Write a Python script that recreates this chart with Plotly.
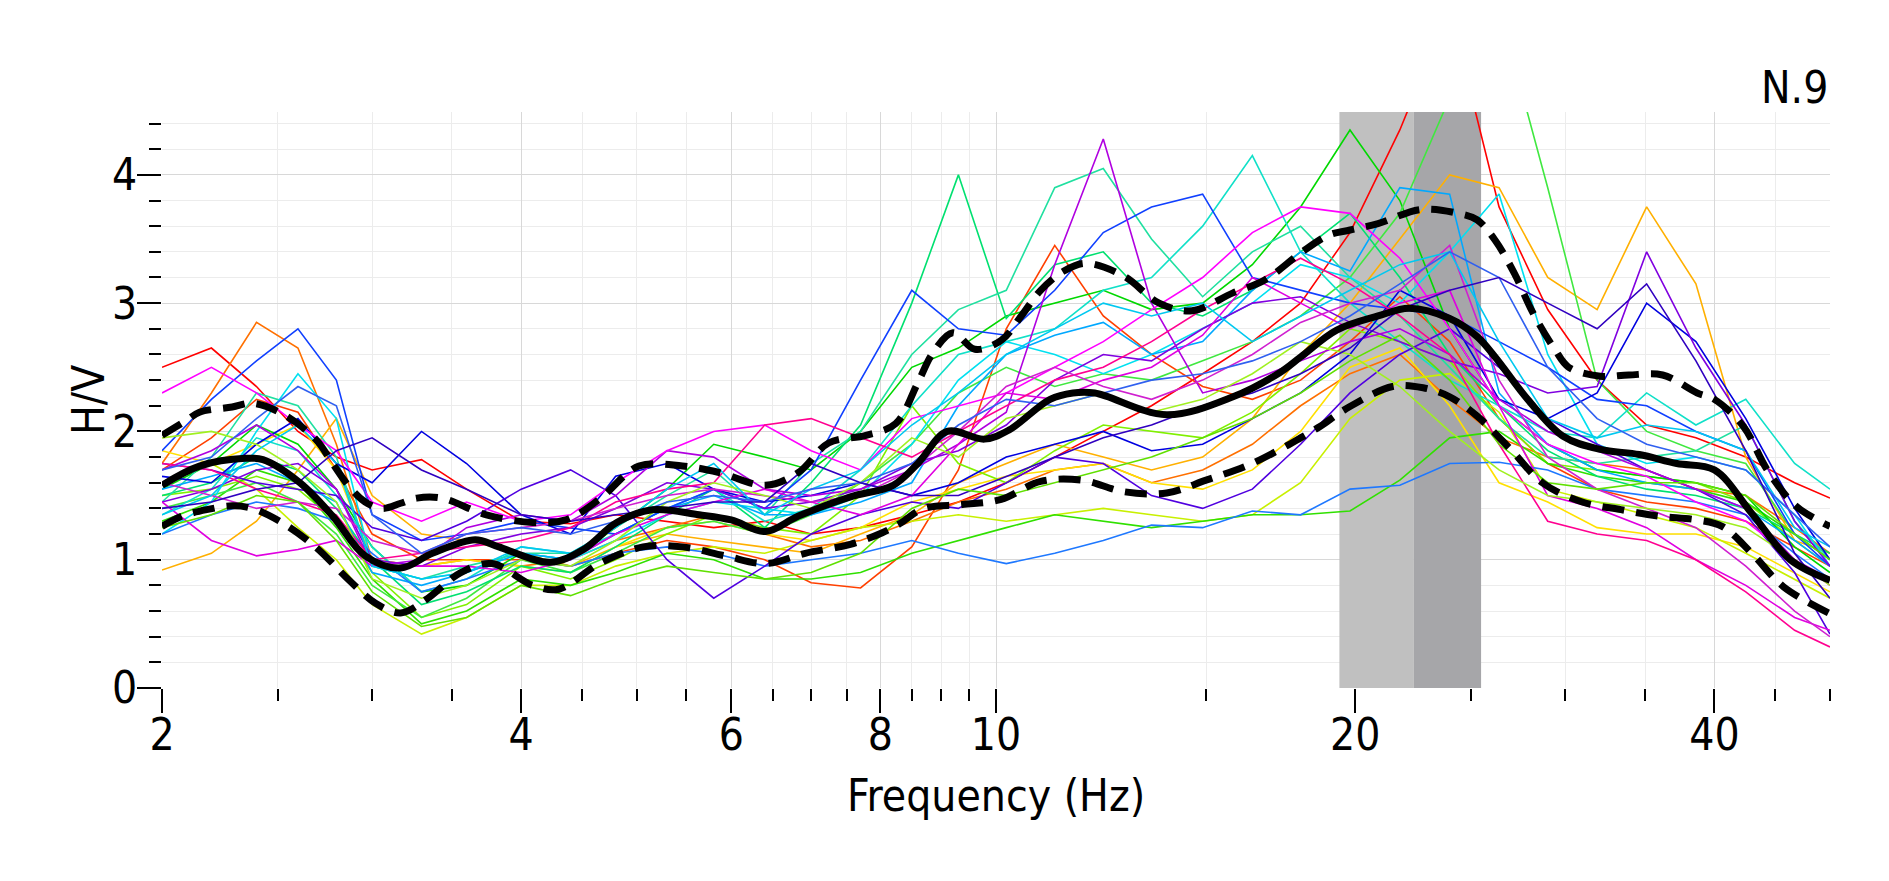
import math
import plotly.graph_objects as go

# ---------------- data ----------------
FREQ = [2.0, 2.2, 2.4, 2.6, 2.8, 3.0, 3.3, 3.6, 4.0, 4.4, 4.8, 5.3, 5.8, 6.4, 7.0, 7.7,
        8.5, 9.3, 10.2, 11.2, 12.3, 13.5, 14.9, 16.4, 18.0, 19.8, 21.8, 24.0, 26.4, 29.0,
        31.9, 35.1, 38.6, 42.5, 46.7, 50.0]

W01 = [2.50, 2.65, 2.35, 2.00, 1.80, 1.70, 1.78, 1.55, 1.30, 1.28, 1.35, 1.30, 1.25, 1.30, 1.20, 1.25, 1.35, 1.45, 1.60, 1.80, 2.00, 2.20, 2.45, 2.70, 3.00, 3.55, 4.35, 5.30, 3.75, 2.95, 2.40, 2.05, 1.95, 1.80, 1.60, 1.48]
W02 = [1.70, 1.95, 2.25, 2.15, 1.70, 1.20, 1.00, 1.00, 1.00, 0.95, 1.05, 1.15, 1.10, 1.00, 0.82, 0.78, 1.10, 1.70, 2.80, 3.45, 2.90, 2.60, 2.35, 2.25, 2.40, 2.70, 3.05, 2.70, 2.10, 1.75, 1.55, 1.45, 1.40, 1.30, 1.10, 0.95]
W03 = [1.75, 2.30, 2.85, 2.65, 1.90, 1.00, 0.95, 1.00, 0.95, 1.00, 1.15, 1.25, 1.35, 1.20, 1.10, 1.15, 1.30, 1.45, 1.55, 1.70, 1.75, 1.60, 1.70, 1.90, 2.20, 2.45, 2.60, 2.25, 1.95, 1.80, 1.75, 1.70, 1.55, 1.50, 1.25, 1.05]
W04 = [0.92, 1.05, 1.30, 1.70, 2.10, 1.50, 1.20, 1.15, 1.05, 0.95, 1.10, 1.20, 1.15, 1.10, 1.05, 1.20, 1.35, 1.60, 1.75, 1.90, 1.80, 1.70, 1.80, 2.10, 2.60, 3.00, 3.50, 4.00, 3.90, 3.20, 2.95, 3.75, 3.15, 1.80, 1.15, 1.05]
W05 = [1.85, 1.75, 1.90, 2.05, 1.70, 1.00, 0.95, 1.00, 0.95, 0.90, 1.10, 1.25, 1.30, 1.20, 1.15, 1.25, 1.45, 1.55, 1.65, 1.70, 1.75, 1.60, 1.55, 1.70, 2.00, 2.50, 2.65, 2.20, 1.60, 1.45, 1.25, 1.20, 1.20, 1.10, 0.90, 0.75]
W06 = [1.60, 1.75, 1.55, 1.25, 1.00, 0.65, 0.42, 0.55, 0.80, 0.80, 0.95, 1.05, 1.10, 1.05, 1.15, 1.25, 1.30, 1.35, 1.30, 1.35, 1.40, 1.35, 1.30, 1.35, 1.60, 2.10, 2.40, 2.45, 2.15, 1.55, 1.45, 1.35, 1.25, 1.05, 0.85, 0.70]
W07 = [1.50, 1.55, 1.65, 1.55, 1.30, 0.90, 0.55, 0.65, 0.95, 0.85, 1.00, 1.20, 1.35, 1.25, 1.20, 1.50, 2.20, 1.75, 1.60, 1.85, 2.05, 2.00, 1.95, 2.15, 2.45, 2.80, 2.70, 2.55, 2.10, 1.75, 1.70, 1.65, 1.60, 1.45, 1.15, 0.95]
W08 = [1.30, 1.45, 1.70, 1.60, 1.25, 0.85, 0.50, 0.60, 0.85, 0.80, 0.90, 1.05, 1.00, 0.85, 0.85, 0.90, 1.05, 1.15, 1.25, 1.35, 1.30, 1.25, 1.30, 1.35, 1.35, 1.38, 1.62, 1.95, 2.00, 1.75, 1.65, 1.60, 1.55, 1.45, 1.20, 1.00]
W09 = [1.55, 1.75, 2.05, 1.90, 1.55, 1.10, 0.75, 0.80, 1.05, 1.00, 1.25, 1.55, 1.90, 1.80, 1.70, 2.00, 2.50, 2.65, 2.90, 3.00, 3.10, 2.95, 3.00, 3.30, 3.75, 4.35, 3.80, 2.80, 2.20, 1.90, 1.70, 1.65, 1.60, 1.50, 1.10, 0.90]
W10 = [1.40, 1.50, 1.60, 1.45, 1.20, 0.80, 0.55, 0.70, 1.00, 0.90, 1.05, 1.25, 1.30, 1.20, 1.35, 1.60, 1.90, 2.30, 2.50, 2.35, 2.45, 2.40, 2.55, 2.70, 2.90, 3.20, 3.70, 4.60, 5.30, 3.90, 2.40, 2.00, 1.85, 1.75, 1.20, 1.00]
W11 = [1.50, 1.60, 1.80, 1.70, 1.40, 1.00, 0.65, 0.75, 0.95, 0.90, 1.10, 1.35, 1.55, 1.25, 1.60, 2.05, 3.00, 4.00, 2.88, 3.30, 3.40, 3.00, 2.90, 3.10, 3.40, 3.70, 3.20, 2.60, 2.20, 1.85, 1.65, 1.55, 1.50, 1.40, 1.20, 1.05]
W12 = [1.45, 1.80, 2.30, 2.20, 1.80, 0.95, 0.85, 0.95, 1.05, 1.05, 1.25, 1.50, 1.70, 1.35, 1.75, 2.00, 2.60, 2.95, 3.10, 3.90, 4.05, 3.50, 3.05, 3.40, 3.60, 3.20, 2.90, 2.50, 2.10, 1.80, 1.75, 1.80, 1.85, 2.05, 1.30, 1.00]
W13 = [1.35, 1.55, 1.95, 1.85, 1.50, 1.10, 0.75, 0.85, 1.10, 1.05, 1.20, 1.40, 1.55, 1.30, 1.40, 1.70, 2.20, 2.60, 2.70, 2.80, 3.10, 3.20, 3.60, 4.15, 3.40, 3.00, 2.70, 2.40, 2.20, 2.00, 1.95, 2.30, 2.05, 2.25, 1.75, 1.55]
W14 = [1.20, 1.45, 2.00, 2.45, 2.10, 0.95, 0.85, 0.90, 1.05, 1.00, 1.15, 1.35, 1.45, 1.40, 1.35, 1.50, 1.90, 2.40, 2.70, 2.60, 2.45, 2.60, 2.80, 3.00, 3.30, 3.20, 3.00, 3.40, 3.85, 2.60, 1.90, 1.75, 1.80, 1.70, 1.35, 0.95]
W15 = [1.55, 1.65, 1.75, 1.60, 1.45, 0.90, 0.80, 0.90, 1.05, 1.00, 1.20, 1.40, 1.50, 1.35, 1.35, 1.45, 1.60, 2.20, 2.60, 2.75, 2.85, 2.60, 2.70, 3.10, 3.40, 3.25, 3.90, 3.85, 2.30, 1.90, 1.70, 1.60, 1.55, 1.40, 1.15, 0.95]
W16 = [1.20, 1.35, 1.45, 1.40, 1.30, 1.05, 0.75, 0.85, 1.00, 0.95, 1.05, 1.10, 1.05, 0.95, 1.00, 1.05, 1.15, 1.05, 0.97, 1.05, 1.15, 1.27, 1.25, 1.38, 1.35, 1.55, 1.58, 1.75, 1.76, 1.70, 1.55, 1.50, 1.45, 1.35, 1.05, 0.85]
W17 = [1.85, 2.25, 2.55, 2.80, 2.40, 1.35, 1.15, 1.20, 1.30, 1.25, 1.20, 1.40, 1.55, 1.40, 1.70, 2.40, 3.10, 2.80, 2.75, 3.10, 3.55, 3.75, 3.85, 3.20, 3.10, 3.00, 2.95, 2.90, 2.70, 2.50, 2.25, 2.20, 2.00, 1.85, 1.20, 0.95]
W18 = [1.65, 1.60, 1.90, 2.10, 1.75, 1.60, 2.00, 1.75, 1.35, 1.20, 1.65, 1.75, 1.55, 1.45, 1.50, 1.60, 1.50, 1.60, 1.80, 1.90, 2.00, 1.85, 1.90, 2.10, 2.30, 2.60, 3.10, 2.90, 2.25, 2.10, 2.30, 3.00, 2.70, 2.10, 1.40, 1.00]
W19 = [1.75, 1.70, 1.60, 1.55, 1.50, 1.25, 1.15, 1.30, 1.55, 1.70, 1.50, 1.00, 0.70, 0.95, 1.20, 1.35, 1.45, 1.40, 1.60, 1.80, 1.75, 1.50, 1.40, 1.55, 1.90, 2.30, 2.60, 2.80, 2.50, 2.10, 1.90, 1.70, 1.55, 1.35, 0.90, 0.42]
W20 = [1.45, 1.55, 1.70, 1.75, 1.55, 1.00, 0.95, 1.10, 1.20, 1.25, 1.40, 1.60, 1.55, 1.40, 1.45, 1.55, 1.75, 1.85, 2.05, 2.40, 2.60, 2.55, 2.80, 3.00, 3.05, 2.85, 2.70, 2.55, 2.45, 2.30, 2.35, 3.40, 2.65, 2.05, 1.30, 0.95]
W21 = [1.70, 1.85, 2.05, 1.85, 1.55, 0.95, 1.00, 1.25, 1.35, 1.30, 1.50, 1.85, 1.80, 1.55, 1.50, 1.55, 1.70, 1.90, 2.15, 3.30, 4.28, 3.00, 2.30, 2.40, 2.55, 2.70, 2.80, 2.60, 2.25, 2.00, 1.85, 1.70, 1.55, 1.40, 1.00, 0.85]
W22 = [2.30, 2.50, 2.30, 2.05, 1.85, 1.45, 1.30, 1.45, 1.30, 1.35, 1.60, 1.85, 2.00, 2.05, 1.85, 1.70, 2.10, 2.20, 2.30, 2.50, 2.70, 2.95, 3.20, 3.55, 3.75, 3.70, 3.35, 2.80, 2.20, 1.90, 1.75, 1.65, 1.45, 1.30, 1.00, 0.80]
W23 = [1.45, 1.15, 1.03, 1.08, 1.15, 0.95, 0.95, 0.95, 0.90, 1.00, 1.20, 1.35, 1.45, 1.55, 1.45, 1.35, 1.50, 1.90, 2.30, 2.25, 2.40, 2.50, 2.75, 3.20, 3.00, 2.80, 3.00, 3.10, 2.20, 1.50, 1.40, 1.25, 1.00, 0.80, 0.55, 0.45]
W24 = [1.75, 1.70, 1.55, 1.45, 1.35, 1.00, 1.05, 1.10, 1.15, 1.25, 1.45, 1.55, 1.60, 2.05, 2.10, 1.95, 1.80, 2.00, 2.20, 2.40, 2.50, 2.70, 2.95, 3.15, 3.35, 3.15, 2.90, 2.60, 1.90, 1.30, 1.20, 1.15, 1.00, 0.75, 0.45, 0.32]
W25 = [1.60, 1.50, 1.40, 1.45, 1.40, 1.15, 1.05, 1.20, 1.25, 1.30, 1.40, 1.50, 1.55, 1.50, 1.45, 1.50, 1.70, 2.00, 2.35, 2.50, 2.35, 2.25, 2.40, 2.60, 2.85, 3.00, 3.10, 3.45, 2.40, 1.80, 1.55, 1.40, 1.25, 0.95, 0.60, 0.40]
W26 = [1.95, 2.00, 1.90, 1.70, 1.45, 0.85, 0.70, 0.80, 1.00, 0.95, 1.15, 1.45, 1.60, 1.50, 1.40, 1.60, 1.95, 1.80, 2.10, 2.20, 2.30, 2.15, 2.25, 2.45, 2.70, 2.60, 2.35, 2.00, 1.70, 1.50, 1.45, 1.40, 1.35, 1.25, 1.00, 0.80]
W27 = [1.35, 1.50, 1.85, 2.05, 1.75, 0.95, 0.85, 0.90, 1.10, 1.05, 1.25, 1.55, 1.75, 1.35, 1.55, 1.70, 2.05, 2.30, 2.60, 2.80, 3.00, 2.90, 3.00, 2.70, 2.90, 3.10, 3.30, 3.40, 2.70, 2.10, 1.95, 2.05, 2.00, 1.85, 1.25, 1.10]
W28 = [1.70, 1.80, 2.10, 2.35, 2.20, 1.35, 1.05, 1.20, 1.25, 1.20, 1.30, 1.45, 1.50, 1.45, 1.55, 1.60, 1.75, 2.05, 2.25, 2.20, 2.30, 2.40, 2.45, 2.55, 2.70, 2.90, 3.15, 3.40, 3.20, 2.50, 2.10, 1.90, 1.80, 1.70, 1.35, 1.10]
W29 = [1.40, 1.45, 1.55, 1.60, 1.85, 1.95, 1.70, 1.55, 1.35, 1.30, 1.35, 1.40, 1.45, 1.45, 1.75, 1.60, 1.50, 1.50, 1.65, 1.80, 1.95, 2.05, 2.20, 2.30, 2.45, 2.65, 2.95, 3.10, 3.20, 3.00, 2.80, 3.15, 2.55, 1.85, 1.05, 0.70]
W30 = [1.25, 1.35, 1.50, 1.45, 1.15, 0.75, 0.48, 0.55, 0.80, 0.72, 0.85, 0.95, 0.90, 0.85, 0.90, 1.05, 1.40, 1.55, 1.50, 1.60, 1.70, 1.80, 1.95, 2.10, 2.30, 2.55, 2.75, 2.40, 1.90, 1.60, 1.55, 1.60, 1.60, 1.50, 1.20, 1.00]

WINDOW_COLORS = ["#ff0000", "#ff4000", "#ff7000", "#ffb000", "#ffe000", "#c8f000",
                 "#80f000", "#30e000", "#00d800", "#40e840", "#00e070", "#20e0a0",
                 "#10e0c8", "#00e0f0", "#00a8ff", "#1e78ff", "#1040ff", "#0000e0",
                 "#5000e0", "#8000e0", "#b000e0", "#ff00ff", "#e000e0", "#ff0090",
                 "#d020d0", "#a0f020", "#00c8f0", "#3060f0", "#3000c0", "#60e000"]

# average curve and +/- std curves
F_MEAN = [2.0, 2.15, 2.35, 2.43, 2.61, 2.78, 2.96, 3.17, 3.37, 3.66, 3.83, 4.23, 4.51, 4.81,
          5.15, 5.64, 6.0, 6.41, 6.83, 7.55, 8.2, 8.6, 9.1, 9.78, 10.25, 11.1, 11.6, 12.1,
          13.9, 15.8, 17.3, 18.0, 19.3, 20.9, 22.2, 24.0, 25.3, 26.2, 27.9, 29.9, 32.1,
          34.6, 37.2, 40.0, 43.0, 46.3, 50.0]
MEAN = [1.58, 1.73, 1.79, 1.78, 1.60, 1.34, 1.03, 0.935, 1.05, 1.156, 1.10, 0.98, 1.08, 1.29,
        1.39, 1.35, 1.31, 1.22, 1.34, 1.49, 1.58, 1.75, 2.00, 1.94, 2.01, 2.25, 2.30, 2.30,
        2.13, 2.27, 2.46, 2.58, 2.79, 2.90, 2.96, 2.88, 2.74, 2.58, 2.25, 1.96, 1.86,
        1.82, 1.75, 1.70, 1.36, 1.00, 0.84]

F_UPPER = [2.0, 2.1, 2.15, 2.29, 2.38, 2.52, 2.69, 2.78, 2.87, 2.96, 3.06, 3.17, 3.27, 3.43,
           3.74, 4.09, 4.36, 4.65, 5.02, 5.46, 5.86, 6.41, 6.83, 7.24, 7.78, 8.24, 8.6, 8.85,
           9.2, 9.6, 10.1, 10.5, 10.9, 11.4, 11.9, 12.8, 13.7, 14.6, 15.8, 16.8, 18.0, 19.0,
           19.8, 20.9, 22.7, 24.4, 25.3, 26.2, 27.2, 28.2, 29.4, 30.2, 32.1, 33.9, 36.2,
           38.7, 40.0, 42.3, 44.3, 46.8, 50.0]
UPPER = [1.97, 2.09, 2.15, 2.19, 2.22, 2.14, 1.94, 1.75, 1.57, 1.45, 1.40, 1.44, 1.48, 1.48,
         1.35, 1.29, 1.31, 1.47, 1.73, 1.73, 1.68, 1.58, 1.68, 1.91, 1.97, 2.06, 2.38, 2.61,
         2.77, 2.64, 2.71, 2.90, 3.10, 3.25, 3.31, 3.21, 3.00, 2.94, 3.08, 3.18, 3.39, 3.53,
         3.57, 3.62, 3.73, 3.70, 3.65, 3.49, 3.23, 2.92, 2.64, 2.50, 2.43, 2.44, 2.44,
         2.30, 2.25, 2.04, 1.70, 1.42, 1.26]

F_LOWER = [2.0, 2.08, 2.18, 2.29, 2.38, 2.52, 2.69, 2.87, 3.02, 3.17, 3.33, 3.56, 3.78, 4.09,
           4.3, 4.65, 5.06, 5.46, 5.93, 6.41, 6.92, 7.55, 8.03, 8.3, 8.7, 9.37, 10.1, 10.9,
           11.8, 12.8, 13.9, 15.0, 16.3, 17.3, 18.0, 18.7, 19.6, 21.5, 22.8, 24.0, 25.3,
           27.0, 28.7, 31.0, 33.4, 35.9, 38.7, 40.6, 43.0, 45.7, 50.0]
LOWER = [1.26, 1.34, 1.39, 1.42, 1.40, 1.29, 1.10, 0.84, 0.66, 0.585, 0.69, 0.90, 0.97, 0.80,
         0.77, 0.97, 1.10, 1.10, 1.03, 0.97, 1.05, 1.12, 1.21, 1.28, 1.40, 1.43, 1.47, 1.61,
         1.62, 1.53, 1.52, 1.62, 1.74, 1.86, 1.95, 2.04, 2.17, 2.35, 2.34, 2.27, 2.12,
         1.86, 1.60, 1.45, 1.39, 1.34, 1.31, 1.26, 1.05, 0.79, 0.58]

# f0 band: f0/std, f0, f0*std
F0_BAND = [19.4, 22.4, 25.5]
BAND_COLORS = ["#c0c0c0", "#a6a6a9"]

X_MAJOR = [2, 4, 6, 8, 10, 20, 40]
X_MINOR = [2.5, 3, 3.5, 4.5, 5, 5.5, 6.5, 7, 7.5, 8.5, 9, 9.5, 15, 25, 30, 35, 45, 50]
Y_MAJOR = [0, 1, 2, 3, 4]
Y_MINOR = [0.2, 0.4, 0.6, 0.8, 1.2, 1.4, 1.6, 1.8, 2.2, 2.4, 2.6, 2.8, 3.2, 3.4, 3.6, 3.8,
           4.2, 4.4]
X_RANGE = [2, 50]
Y_RANGE = [0, 4.49]

TITLE = "N.9"
X_TITLE = "Frequency (Hz)"
Y_TITLE = "H/V"

FONT = "DejaVu Sans Condensed, Liberation Sans, Arial, sans-serif"

# ---------------- figure ----------------
WINDOWS = [W01, W02, W03, W04, W05, W06, W07, W08, W09, W10, W11, W12, W13, W14, W15,
           W16, W17, W18, W19, W20, W21, W22, W23, W24, W25, W26, W27, W28, W29, W30]

fig = go.Figure()

# f0 bands (as filled traces so that they sit above the grid and below the curves)
for i in range(2):
    xa, xb = F0_BAND[i], F0_BAND[i + 1]
    fig.add_trace(go.Scatter(x=[xa, xa, xb, xb, xa],
                             y=[Y_RANGE[0], Y_RANGE[1], Y_RANGE[1], Y_RANGE[0], Y_RANGE[0]],
                             mode="lines", fill="toself", fillcolor=BAND_COLORS[i],
                             line=dict(width=0, color=BAND_COLORS[i]), hoverinfo="skip"))

for vals, col in zip(WINDOWS, WINDOW_COLORS):
    fig.add_trace(go.Scatter(x=FREQ, y=vals, mode="lines",
                             line=dict(color=col, width=1.6), hoverinfo="skip"))

dash = "22px,12px"
fig.add_trace(go.Scatter(x=F_UPPER, y=UPPER, mode="lines",
                         line=dict(color="black", width=7, dash=dash, shape="spline"),
                         hoverinfo="skip"))
fig.add_trace(go.Scatter(x=F_LOWER, y=LOWER, mode="lines",
                         line=dict(color="black", width=7, dash=dash, shape="spline"),
                         hoverinfo="skip"))
fig.add_trace(go.Scatter(x=F_MEAN, y=MEAN, mode="lines",
                         line=dict(color="black", width=7, shape="spline"),
                         hoverinfo="skip"))

fig.update_layout(
    width=1889, height=881,
    margin=dict(l=162, r=59, t=112, b=193),
    paper_bgcolor="white", plot_bgcolor="white",
    showlegend=False, hovermode=False,
    font=dict(family=FONT, size=44, color="black"),
)

fig.update_xaxes(
    type="log", range=[math.log10(X_RANGE[0]), math.log10(X_RANGE[1])],
    tickmode="array", tickvals=X_MAJOR, ticktext=[str(v) for v in X_MAJOR],
    ticks="outside", ticklen=24, tickwidth=1.5, tickcolor="black",
    ticklabelstandoff=-16,
    tickfont=dict(size=44, family=FONT, color="black"),
    showgrid=True, gridcolor="#d8d8d8", gridwidth=1,
    zeroline=False, showline=False,
    minor=dict(tickmode="array", tickvals=X_MINOR, ticks="outside", ticklen=12,
               tickwidth=1.5, tickcolor="black", showgrid=True,
               gridcolor="#ececec", gridwidth=1),
)
fig.update_yaxes(
    range=Y_RANGE,
    tickmode="array", tickvals=Y_MAJOR, ticktext=[str(v) for v in Y_MAJOR],
    ticks="outside", ticklen=24, tickwidth=1.5, tickcolor="black",
    ticklabelstandoff=-9,
    tickfont=dict(size=44, family=FONT, color="black"),
    showgrid=True, gridcolor="#d8d8d8", gridwidth=1,
    zeroline=False, showline=False,
    minor=dict(tickmode="array", tickvals=Y_MINOR, ticks="outside", ticklen=12,
               tickwidth=1.5, tickcolor="black", showgrid=True,
               gridcolor="#ececec", gridwidth=1),
)

fig.add_annotation(text=TITLE, xref="paper", yref="paper", x=1, y=1,
                   xanchor="right", yanchor="bottom", yshift=-3, showarrow=False,
                   font=dict(size=44, family=FONT, color="black"))
fig.add_annotation(text=X_TITLE, xref="paper", yref="paper", x=0.5, y=0,
                   xanchor="center", yanchor="top", yshift=-80, showarrow=False,
                   font=dict(size=44, family=FONT, color="black"))
fig.add_annotation(text=Y_TITLE, xref="paper", yref="paper", x=-0.0444, y=0.5,
                   xanchor="center", yanchor="middle", textangle=-90, showarrow=False,
                   font=dict(size=44, family=FONT, color="black"))

fig.write_html("out.html", config={"displayModeBar": False},
               post_script="document.body.style.margin='0';document.body.style.overflow='hidden';")
